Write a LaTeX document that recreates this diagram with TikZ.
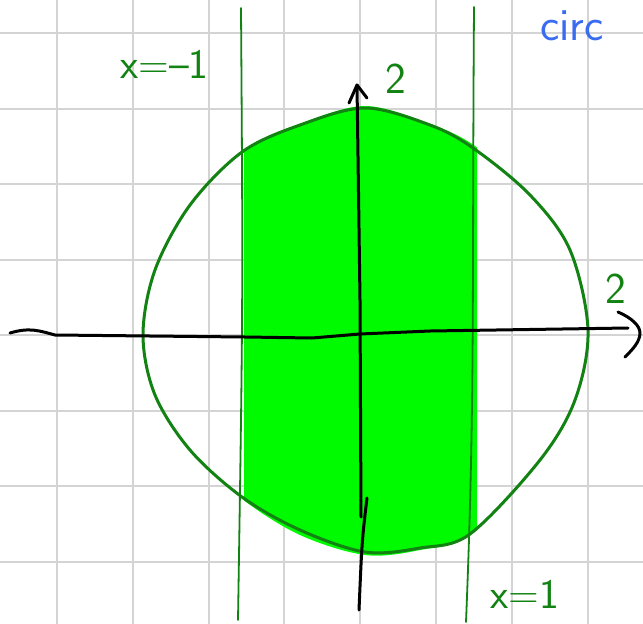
\documentclass[tikz,border=0pt]{standalone}
\usepackage{tikz}
\usetikzlibrary{calc}

\definecolor{gridgray}{RGB}{212,212,212}
\definecolor{penGreen}{RGB}{18,130,18}
\definecolor{fillGreen}{RGB}{0,250,0}
\definecolor{penBlue}{RGB}{58,108,240}

\begin{document}
\begin{tikzpicture}[x=1pt, y=-1pt, line cap=round, line join=round,
    pen/.style={line width=3pt, black},
    greenpen/.style={line width=1.8pt, penGreen},
    handlabel/.style={text=penGreen, inner sep=0pt, anchor=base west,
        font=\sffamily\fontsize{42}{42}\selectfont}]

    \useasboundingbox (0,0) rectangle (643,624);

    % =========================================================================
    % SQUARED PAPER
    % =========================================================================
    \foreach \k in {0,...,7} {
        \draw[gridgray, line width=2pt] ({57+75.8*\k},0) -- ({57+75.8*\k},624);
        \draw[gridgray, line width=2pt] (0,{33+75.5*\k}) -- (643,{33+75.5*\k});
    }

    % =========================================================================
    % SHADED STRIP INSIDE THE CIRCLE
    % =========================================================================
    \begin{scope}
        \clip (244,0) rectangle (477,624);
        \fill[fillGreen] plot[smooth cycle, tension=0.55] coordinates {
            (365,106) (430,124) (475,146) (530,194) (570,250) (588,330)
            (576,400) (540,462) (472,534) (420,550) (365,555) (300,535)
            (242,499) (190,452) (155,396) (143,335) (155,270) (190,206)
            (242,151) (300,124)};
    \end{scope}

    % --- Circle outline ---
    \draw[line width=3pt, penGreen] plot[smooth cycle, tension=0.55] coordinates {
        (365,108) (430,125) (473,148) (530,195) (570,250) (588,330)
        (575,400) (540,460) (470,534) (420,548) (365,552) (300,530)
        (242,497) (190,450) (155,395) (143,335) (155,270) (190,205)
        (242,152) (300,125)};

    % --- Lines x=-1 and x=1 ---
    \coordinate (LineL-top) at (241,8);
    \coordinate (LineL-bot) at (238,620);
    \coordinate (LineR-top) at (474,7);
    \coordinate (LineR-bot) at (466,622);
    \draw[greenpen] (LineL-top) .. controls (243,300) .. (LineL-bot);
    \draw[greenpen] (LineR-top) .. controls (472,300) and (475,400) .. (LineR-bot);

    % =========================================================================
    % AXES
    % =========================================================================
    \coordinate (Y-tip) at (357,85);
    \coordinate (X-tip) at (640,333);
    \draw[pen] (361,517) -- (360,300) -- (Y-tip);
    \draw[pen] (367,498) .. controls (362,540) .. (359,610);
    \draw[pen] (349,103) -- (Y-tip) -- (367,98);

    \draw[pen] (10,333) .. controls (30,327) and (40,331) .. (55,335)
        -- (245,337) -- (312,338) -- (360,334) -- (430,331) -- (628,328);
    \draw[pen] (618,312) .. controls (632,318) and (640,326) .. (X-tip)
        .. controls (640,342) and (632,350) .. (625,357);

    % =========================================================================
    % LABELS
    % =========================================================================
    \node[handlabel] (lbl-xm1) at (120,78) {x=--1};
    \node[handlabel] (lbl-x1) at (490,608) {x=1};
    \node[handlabel, font=\sffamily\fontsize{44}{44}\selectfont] (lbl-ytwo) at (385,93) {2};
    \node[handlabel, font=\sffamily\fontsize{44}{44}\selectfont] (lbl-xtwo) at (605,303) {2};
    \node[handlabel, text=penBlue, font=\sffamily\fontsize{46}{46}\selectfont] (lbl-circ) at (540,40) {circ};

\end{tikzpicture}
\end{document}
